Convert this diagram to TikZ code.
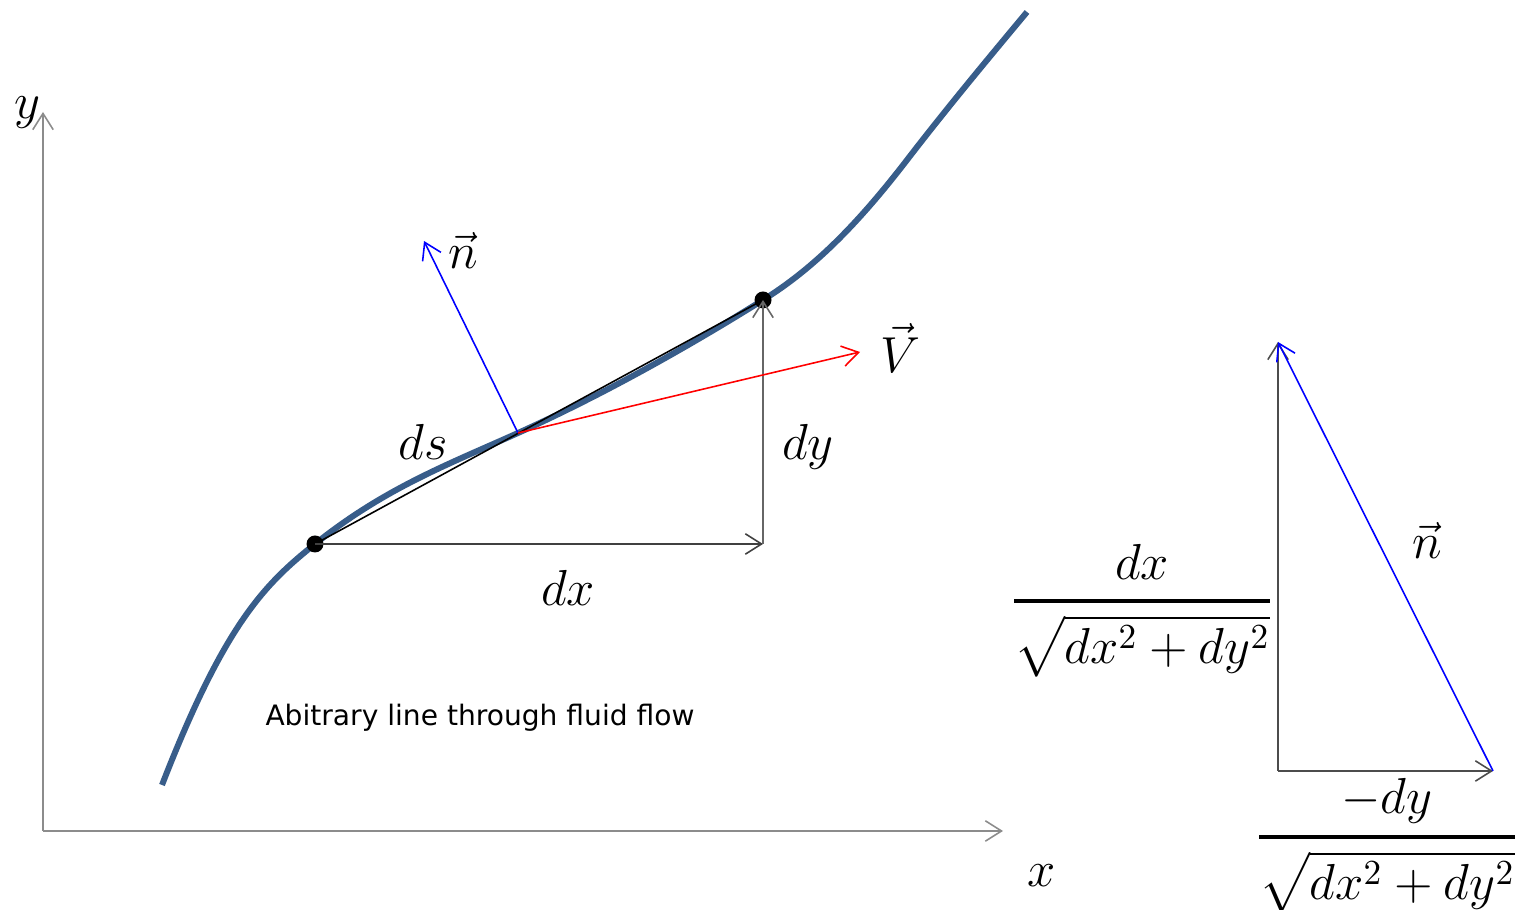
\documentclass[tikz,border=0pt]{standalone}
\usepackage{fontspec}
\usepackage{amsmath}
\newfontfamily\labelfont{DejaVu Sans}
\usetikzlibrary{arrows.meta}
\definecolor{curveblue}{RGB}{56,93,138}
\definecolor{axisgray}{RGB}{140,140,140}
\tikzset{
  thinline/.style={line width=0.45pt},
  barb/.style={-{Straight Barb[length=4.6pt,width=5.8pt]}},
  axisline/.style={thinline,axisgray,barb},
  mathlbl/.style={inner sep=0pt,font=\fontsize{14.5}{17}\selectfont},
  dotnode/.style={circle,fill=black,inner sep=0pt,minimum size=0.17cm},
}
\begin{document}
\begin{tikzpicture}
\useasboundingbox (0,0) rectangle (15.21,9.10);
% coordinates
\coordinate (O) at (0.43,0.79);
\coordinate (ytip) at (0.43,7.98);
\coordinate (xtip) at (10.03,0.79);
\coordinate (S) at (1.62,1.25);
\coordinate (K) at (9.07,7.50);
\coordinate (E) at (10.27,8.98);
\coordinate (Q) at (7.63,3.66);
\coordinate (M) at (5.18,4.77);
\coordinate (ntip) at (4.24,6.69);
\coordinate (Vtip) at (8.60,5.58);
\coordinate (A) at (12.78,1.39);
\coordinate (B) at (12.78,5.68);
\coordinate (C) at (14.93,1.39);
% axes
\draw[axisline] (O) -- (ytip);
\draw[axisline] (O) -- (xtip);
% curve
\draw[curveblue,line width=1.7pt]
  (S) .. controls (2.25,2.87) and (2.65,3.26) .. (3.15,3.66)
      .. controls (3.85,4.22) and (4.48,4.455) .. (M)
      .. controls (5.98,5.13) and (6.83,5.60) .. (7.63,6.10)
      .. controls (8.13,6.41) and (8.57,6.85) .. (K)
      .. controls (9.47,8.02) and (9.87,8.50) .. (E);
% points
\node[dotnode] (P1) at (3.15,3.66) {};
\node[dotnode] (P2) at (7.63,6.10) {};
% chord and increments
\draw[thinline,black] (P1.center) -- (P2.center);
\draw[thinline,black!75,barb] (P1.center) -- (Q);
\draw[thinline,black!60,barb] (Q) -- (P2.center);
% vectors
\draw[thinline,blue,barb] (M) -- (ntip);
\draw[thinline,red,barb] (M) -- (Vtip);
% right triangle
\draw[thinline,black!70,barb] (A) -- (B);
\draw[thinline,black!70,barb] (A) -- (C);
\draw[thinline,blue,barb] (C) -- (B);
% labels
\node[mathlbl] (ylbl) at (0.27,7.97) {$y$};
\node[mathlbl] (xlbl) at (10.42,0.34) {$x$};
\node[mathlbl] (dslbl) at (4.23,4.68) {$ds$};
\node[mathlbl] (dylbl) at (8.08,4.63) {$dy$};
\node[mathlbl] (dxlbl) at (5.68,3.22) {$dx$};
\node[mathlbl] (nlbl) at (4.63,6.60) {$\vec{n}$};
\node[mathlbl] (Vlbl) at (9.00,5.62) {$\vec{V}$};
\node[mathlbl] (nlbl2) at (14.27,3.70) {$\vec{n}$};
\node[mathlbl] (frac1) at (11.42,2.99) {$\genfrac{}{}{1.1pt}{0}{dx}{\sqrt{dx^2+dy^2}}$};
\node[mathlbl] (frac2) at (13.87,0.64) {$\genfrac{}{}{1.1pt}{0}{-dy}{\sqrt{dx^2+dy^2}}$};
\node[inner sep=0pt,font=\labelfont\fontsize{8}{10}\selectfont] (caption) at (4.80,1.92) {Abitrary line through fluid flow};
\end{tikzpicture}
\end{document}
